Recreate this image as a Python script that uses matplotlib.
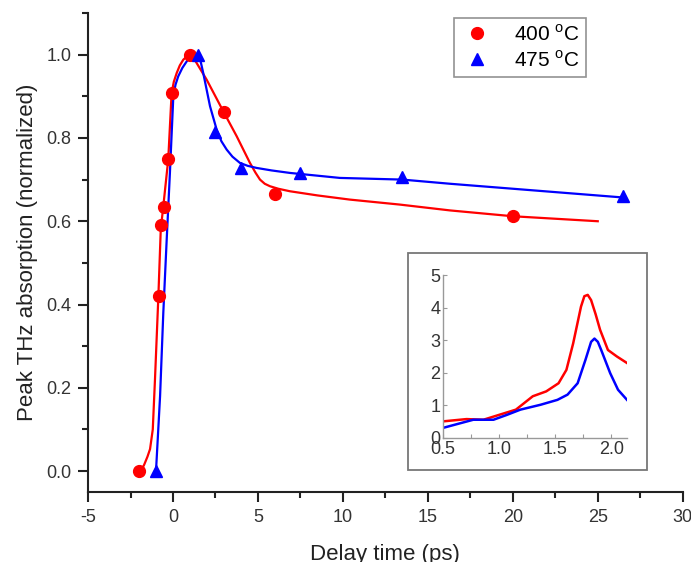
import matplotlib.pyplot as plt
import matplotlib.patches as mpatches
from matplotlib.ticker import MultipleLocator

plt.rcParams['font.family'] = ['Liberation Sans', 'DejaVu Sans']
plt.rcParams['axes.unicode_minus'] = False
plt.rcParams['mathtext.fontset'] = 'custom'
plt.rcParams['mathtext.rm'] = 'Liberation Sans'

# measured points
t_400 = [-2.0, -0.85, -0.7, -0.55, -0.3, -0.05, 1.0, 3.0, 6.0, 20.0]
a_400 = [0.0, 0.42, 0.59, 0.635, 0.75, 0.908, 1.0, 0.862, 0.665, 0.612]
t_475 = [-1.0, 1.5, 2.5, 4.0, 7.5, 13.5, 26.5]
a_475 = [0.0, 1.0, 0.815, 0.729, 0.715, 0.707, 0.66]

# fit curves
fit_t_400 = [-2.0, -1.85, -1.7, -1.5, -1.35, -1.19, -1.06, -0.86, -0.72, -0.57,
             -0.28, -0.08, 0.05, 0.22, 0.4, 0.61, 0.8, 1.0, 1.2, 1.39, 1.98, 2.96,
             3.75, 4.53, 4.85, 5.12, 5.4, 5.71, 6.2, 6.88, 8.5, 10.4, 13.35, 16.3,
             20.0, 25.0]
fit_a_400 = [0.0, 0.004, 0.015, 0.035, 0.053, 0.10, 0.22, 0.42, 0.58, 0.636,
             0.748, 0.908, 0.935, 0.956, 0.974, 0.988, 0.995, 0.998, 0.992, 0.98,
             0.94, 0.864, 0.804, 0.74, 0.717, 0.70, 0.69, 0.684, 0.678, 0.672,
             0.662, 0.652, 0.64, 0.626, 0.612, 0.60]
fit_t_475 = [-1.0, -0.76, -0.57, -0.37, -0.18, 0.02, 0.15, 0.31, 0.55, 0.81, 1.1,
             1.35, 1.49, 1.62, 1.78, 2.18, 2.57, 2.85, 3.16, 3.5, 3.94, 4.4, 4.92,
             5.8, 6.88, 9.82, 13.5, 16.3, 26.5]
fit_a_475 = [0.0, 0.18, 0.38, 0.556, 0.717, 0.90, 0.928, 0.948, 0.968, 0.984,
             0.994, 0.999, 0.998, 0.985, 0.956, 0.876, 0.82, 0.792, 0.772, 0.755,
             0.74, 0.733, 0.728, 0.722, 0.716, 0.704, 0.70, 0.69, 0.657]

# inset spectra
f_400 = [0.5, 0.71, 0.86, 1.0, 1.15, 1.3, 1.42, 1.53, 1.6, 1.66, 1.73, 1.76,
         1.79, 1.82, 1.86, 1.9, 1.97, 2.05, 2.14]
s_400 = [0.51, 0.58, 0.56, 0.71, 0.87, 1.28, 1.43, 1.68, 2.09, 2.9, 4.03, 4.35,
         4.39, 4.23, 3.8, 3.32, 2.7, 2.5, 2.3]
f_475 = [0.5, 0.77, 0.95, 1.07, 1.19, 1.37, 1.52, 1.61, 1.7, 1.77, 1.82, 1.85,
         1.88, 1.91, 1.99, 2.06, 2.14]
s_475 = [0.31, 0.56, 0.56, 0.71, 0.87, 1.02, 1.17, 1.33, 1.68, 2.4, 2.95, 3.05,
         2.95, 2.7, 1.99, 1.48, 1.17]

RED = '#ff0000'
BLUE = '#0000ff'
AX_COL = '#222222'

fig = plt.figure(figsize=(6.91, 5.62), dpi=100)
ax = fig.add_axes([0.1274, 0.1246, 0.8606, 0.8523])

ax.plot(fit_t_400, fit_a_400, color=RED, lw=1.6, zorder=2)
ax.plot(fit_t_475, fit_a_475, color=BLUE, lw=1.6, zorder=2)
ax.plot(t_400, a_400, 'o', color=RED, ms=8.5, label='400 $^{\\rm o}$C', zorder=3)
ax.plot(t_475, a_475, '^', color=BLUE, ms=9, label='475 $^{\\rm o}$C', zorder=3)

ax.set_xlim(-5, 30)
ax.set_ylim(-0.05, 1.1)
ax.xaxis.set_major_locator(MultipleLocator(5))
ax.xaxis.set_minor_locator(MultipleLocator(2.5))
ax.yaxis.set_minor_locator(MultipleLocator(0.1))
ax.set_yticks([0.0, 0.2, 0.4, 0.6, 0.8, 1.0])
ax.set_yticklabels(['0.0', '0.2', '0.4', '0.6', '0.8', '1.0'])
for s in ['top', 'right']:
    ax.spines[s].set_visible(False)
for s in ['left', 'bottom']:
    ax.spines[s].set_linewidth(1.5)
    ax.spines[s].set_color(AX_COL)
ax.tick_params(which='major', direction='out', length=7, width=1.5,
               color=AX_COL, labelsize=13, labelcolor='#333333', pad=5)
ax.tick_params(which='minor', direction='out', length=4, width=1.5, color=AX_COL)
ax.set_ylabel('Peak THz absorption (normalized)', fontsize=16,
              color='#222222', labelpad=6)
ax.set_xlabel('Delay time (ps)', fontsize=16, color='#222222', labelpad=13)

leg = ax.legend(loc='upper left', bbox_to_anchor=(0.615, 0.99), fontsize=15,
                frameon=True, fancybox=False, handletextpad=1.0,
                borderpad=0.3, labelspacing=0.25, handlelength=1.6,
                borderaxespad=0.0)
leg.get_frame().set_edgecolor('#777777')
leg.get_frame().set_linewidth(1.2)

# inset box
box = mpatches.Rectangle((408 / 691, 1 - 470 / 562), (647 - 408) / 691,
                         (470 - 253) / 562, transform=fig.transFigure,
                         facecolor='white', edgecolor='#777777', lw=1.3, zorder=4)
fig.patches.append(box)

ins = fig.add_axes([443 / 691, 1 - 438 / 562, (627 - 443) / 691, (438 - 275) / 562])
ins.set_zorder(5)
ins.plot(f_400, s_400, color=RED, lw=1.8)
ins.plot(f_475, s_475, color=BLUE, lw=1.8)
ins.set_xlim(0.5, 2.14)
ins.set_ylim(0, 5)
ins.xaxis.set_minor_locator(MultipleLocator(0.25))
ins.yaxis.set_major_locator(MultipleLocator(1))
ins.set_xticks([0.5, 1.0, 1.5, 2.0])
ins.set_xticklabels(['0.5', '1.0', '1.5', '2.0'])
for s in ['top', 'right']:
    ins.spines[s].set_visible(False)
for s in ['left', 'bottom']:
    ins.spines[s].set_color('#999999')
    ins.spines[s].set_linewidth(1.0)
ins.tick_params(which='both', direction='in', length=3, width=0.8,
                color='#999999', labelsize=13, labelcolor='#333333', pad=2)

fig.savefig('out.png', dpi=100, facecolor='white')
